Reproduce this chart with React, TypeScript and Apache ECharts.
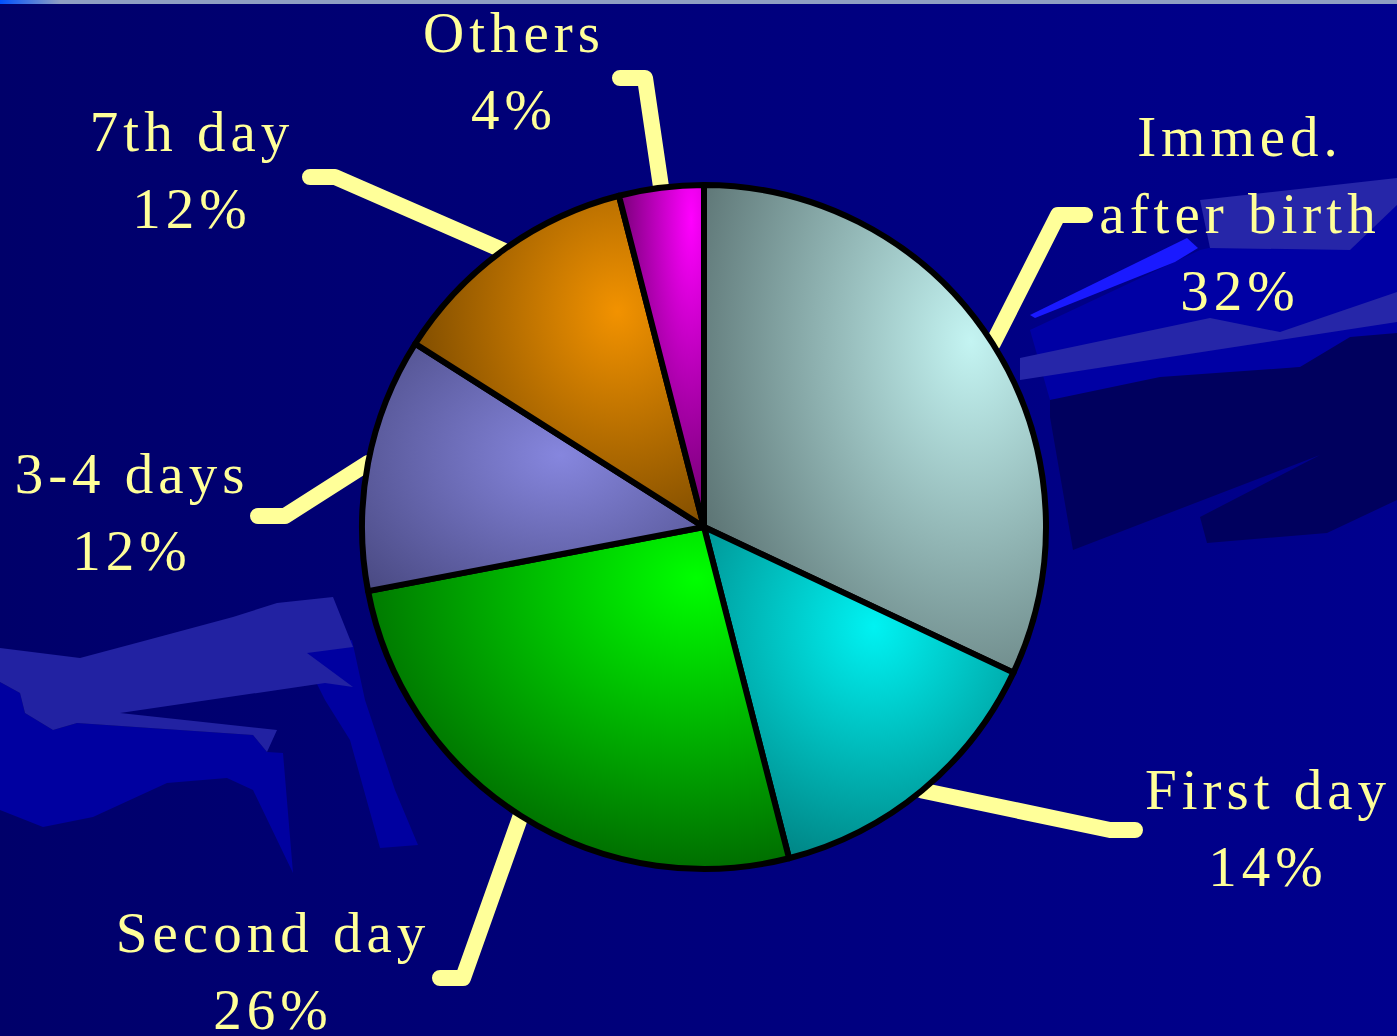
import React, { useEffect, useRef } from 'react';
import * as echarts from 'echarts';

// ---- data ----
const categories = ['Immed. after birth', 'First day', 'Second day', '3-4 days', '7th day', 'Others'];
const shares = [32, 14, 26, 12, 12, 4];

// ---- styles ----
const highlightColors = ['#c4f4f2', '#00f2f2', '#00ff00', '#8686de', '#f29200', '#ff00ff'];
const shadeColors = ['#5e7676', '#007676', '#006e00', '#44447a', '#6a4000', '#780078'];
const highlightPos = [
  [0.78, 0.32],
  [0.55, 0.3],
  [0.78, 0.15],
  [0.58, 0.45],
  [0.7, 0.35],
  [0.85, 0.1],
];

// ---- label layout (text anchor, elbow, end of guide line) ----
const labelText = [
  [1240, 213],
  [1268, 828],
  [273, 971],
  [132, 512],
  [192, 170],
  [514, 71],
];
const labelElbow = [
  [1058, 215],
  [1110, 830],
  [463, 978],
  [285, 516],
  [335, 177],
  [645, 78],
];
const labelEnd = [
  [1085, 215],
  [1135, 830],
  [440, 978],
  [258, 516],
  [310, 177],
  [620, 78],
];

// ---- decorative background shapes ----
const bgShapes: { points: number[][]; fill: string; z: number }[] = [
  {
    fill: '#0000a0',
    z: -12,
    points: [
      [0, 682], [20, 693], [25, 713], [53, 730], [77, 723], [253, 735], [267, 752], [283, 753],
      [293, 873], [253, 790], [227, 778], [167, 783], [93, 817], [43, 827], [0, 810],
    ],
  },
  {
    fill: '#0000a0',
    z: -12,
    points: [[300, 650], [352, 640], [365, 700], [395, 790], [418, 845], [380, 848], [350, 740], [325, 700]],
  },
  {
    fill: '#2222a2',
    z: -11,
    points: [
      [0, 648], [80, 658], [140, 642], [233, 617], [277, 603], [333, 597], [353, 647], [307, 653],
      [353, 687], [325, 683], [120, 713], [277, 730], [267, 752], [253, 735], [77, 723], [53, 730],
      [25, 713], [20, 693], [0, 682],
    ],
  },
  {
    fill: '#00005e',
    z: -12,
    points: [
      [1050, 400], [1160, 377], [1300, 367], [1350, 337], [1397, 333], [1397, 500], [1327, 533],
      [1207, 543], [1200, 517], [1320, 455], [1073, 550], [1050, 417],
    ],
  },
  {
    fill: '#0000a4',
    z: -13,
    points: [[1030, 330], [1200, 250], [1397, 205], [1397, 333], [1300, 367], [1050, 400]],
  },
  {
    fill: '#2626a8',
    z: -11,
    points: [[1200, 200], [1397, 178], [1397, 205], [1350, 250], [1210, 248]],
  },
  {
    fill: '#2626a8',
    z: -11,
    points: [[1020, 358], [1210, 318], [1280, 332], [1397, 292], [1397, 322], [1020, 380]],
  },
  {
    fill: '#1a1aff',
    z: -10,
    points: [[1030, 315], [1187, 238], [1198, 248], [1175, 262], [1035, 318]],
  },
];

const TEXT_COLOR = '#ffff99';

export default function App() {
  const ref = useRef<HTMLDivElement>(null);

  useEffect(() => {
    if (!ref.current) return;
    const chart = echarts.init(ref.current, undefined, { renderer: 'svg' });

    const data = categories.map((name, i) => ({
      name,
      value: shares[i],
      itemStyle: {
        color: new echarts.graphic.RadialGradient(highlightPos[i][0], highlightPos[i][1], 0.85, [
          { offset: 0, color: highlightColors[i] },
          { offset: 1, color: shadeColors[i] },
        ]),
      },
    }));

    chart.setOption({
      animation: false,
      backgroundColor: new echarts.graphic.LinearGradient(0, 0, 1, 0, [
        { offset: 0, color: '#00006a' },
        { offset: 1, color: '#00008e' },
      ]),
      graphic: [
        ...bgShapes.map((s) => ({
          type: 'polygon',
          z: s.z,
          silent: true,
          shape: { points: s.points },
          style: { fill: s.fill },
        })),
        // top strip
        {
          type: 'rect',
          z: -5,
          silent: true,
          shape: { x: 0, y: 0, width: 1397, height: 4 },
          style: { fill: '#8f9fc2' },
        },
        {
          type: 'rect',
          z: -4,
          silent: true,
          shape: { x: 0, y: 0, width: 60, height: 4 },
          style: {
            fill: new echarts.graphic.LinearGradient(0, 0, 1, 0, [
              { offset: 0, color: '#0050ff' },
              { offset: 1, color: 'rgba(0,80,255,0)' },
            ]),
          },
        },
      ],
      series: [
        {
          type: 'pie',
          center: [704, 527],
          radius: 342,
          startAngle: 90,
          clockwise: true,
          avoidLabelOverlap: false,
          itemStyle: { borderColor: '#000000', borderWidth: 6 },
          emphasis: { disabled: true },
          label: {
            show: true,
            position: 'outside',
            formatter: (p: any) => `${String(p.name).replace('Immed. ', 'Immed.\n')}\n${p.value}%`,
            color: TEXT_COLOR,
            fontFamily: '"Liberation Serif", "Times New Roman", serif',
            fontSize: 57,
            lineHeight: 77,
            align: 'center',
          },
          labelLine: {
            show: true,
            length: 40,
            length2: 30,
            lineStyle: { color: TEXT_COLOR, width: 16, cap: 'round', join: 'round' },
          },
          labelLayout: (params: any) => {
            const i = params.dataIndex;
            const p0 =
              params.labelLinePoints && params.labelLinePoints[0]
                ? params.labelLinePoints[0]
                : labelElbow[i];
            return {
              x: labelText[i][0],
              y: labelText[i][1],
              align: 'center',
              verticalAlign: 'middle',
              labelLinePoints: [p0, labelElbow[i], labelEnd[i]],
            };
          },
          data,
        },
      ],
    });

    return () => chart.dispose();
  }, []);

  return (
    <>
      <style>{'#chart svg text { letter-spacing: 5px; }'}</style>
      <div
        id="chart"
        ref={ref}
        style={{ position: 'absolute', left: 0, top: 0, width: 1397, height: 1036 }}
      />
    </>
  );
}
